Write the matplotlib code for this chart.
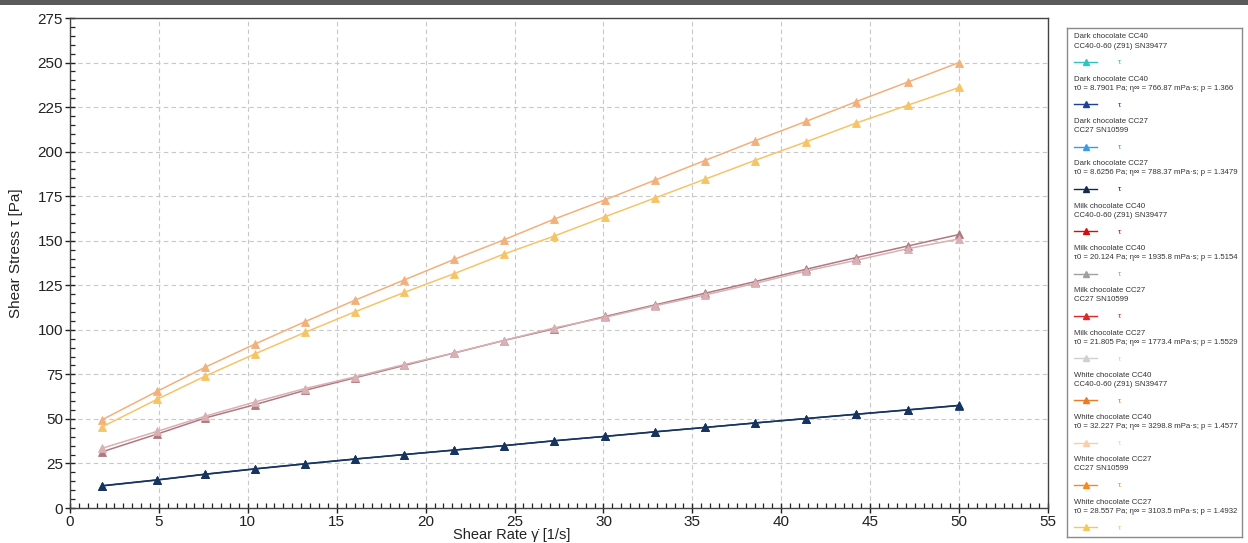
import matplotlib
matplotlib.use("Agg")
import matplotlib.pyplot as plt
from matplotlib.lines import Line2D
from matplotlib.patches import Rectangle
from matplotlib.ticker import MultipleLocator

plt.rcParams['font.family'] = ['Liberation Sans', 'DejaVu Sans']

# ---------------- data ----------------
shear_rate = [1.8, 4.9, 7.6, 10.4, 13.2, 16.0, 18.8, 21.6, 24.4, 27.2,
              30.1, 32.9, 35.7, 38.5, 41.4, 44.2, 47.1, 50.0]

dark_cc40 = [12.5, 15.8, 19.0, 22.0, 24.8, 27.5, 30.0, 32.5, 35.0, 37.7,
             40.2, 42.8, 45.2, 47.7, 50.2, 52.6, 55.0, 57.5]
dark_cc27 = [12.4, 15.7, 18.9, 21.9, 24.7, 27.4, 30.0, 32.5, 35.0, 37.7,
             40.2, 42.7, 45.2, 47.7, 50.2, 52.6, 55.1, 57.6]
milk_cc40 = [31.5, 41.5, 50.5, 58.0, 66.0, 73.0, 80.0, 87.0, 94.0, 100.5,
             107.5, 114.0, 120.5, 127.0, 134.0, 140.5, 147.0, 153.5]
milk_cc27 = [33.5, 43.0, 51.5, 59.5, 67.0, 73.5, 80.5, 87.0, 94.0, 101.0,
             107.0, 113.5, 119.5, 126.0, 133.0, 139.0, 145.5, 151.0]
white_cc40 = [49.5, 65.5, 79.0, 92.0, 104.5, 116.5, 128.0, 139.5, 150.5, 162.0,
              173.0, 184.0, 195.0, 206.0, 217.0, 228.0, 239.0, 250.0]
white_cc27 = [45.5, 61.0, 74.0, 86.5, 98.5, 110.0, 121.0, 131.5, 142.5, 152.5,
              163.5, 174.0, 184.5, 195.0, 205.5, 216.0, 226.0, 236.0]

legend_titles = ["Dark chocolate CC40", "Dark chocolate CC40",
                 "Dark chocolate CC27", "Dark chocolate CC27",
                 "Milk chocolate CC40", "Milk chocolate CC40",
                 "Milk chocolate CC27", "Milk chocolate CC27",
                 "White chocolate CC40", "White chocolate CC40",
                 "White chocolate CC27", "White chocolate CC27"]
legend_sub = ["CC40-0-60 (Z91) SN39477",
              "τ0 = 8.7901 Pa; η∞ = 766.87 mPa·s; p = 1.366",
              "CC27 SN10599",
              "τ0 = 8.6256 Pa; η∞ = 788.37 mPa·s; p = 1.3479",
              "CC40-0-60 (Z91) SN39477",
              "τ0 = 20.124 Pa; η∞ = 1935.8 mPa·s; p = 1.5154",
              "CC27 SN10599",
              "τ0 = 21.805 Pa; η∞ = 1773.4 mPa·s; p = 1.5529",
              "CC40-0-60 (Z91) SN39477",
              "τ0 = 32.227 Pa; η∞ = 3298.8 mPa·s; p = 1.4577",
              "CC27 SN10599",
              "τ0 = 28.557 Pa; η∞ = 3103.5 mPa·s; p = 1.4932"]
legend_colors = ["#2ec4c4", "#1f3f9e", "#3a9be8", "#16294f",
                 "#d01010", "#a0a0a0", "#e02828", "#d0d0d0",
                 "#f07a20", "#f8cfa8", "#f58a1e", "#f5c85a"]

# apparent colours of the curves in the plot area
curve_series = [dark_cc40, dark_cc27, milk_cc40, milk_cc27, white_cc40, white_cc27]
curve_colors = ["#1d3f6e", "#17345e", "#b07880", "#d9b0b4", "#f1b07c", "#f6c466"]

# ---------------- figure ----------------
fig = plt.figure(figsize=(12.48, 5.43), dpi=100)
fig.patches.append(Rectangle((0, 0.991), 1, 0.009, transform=fig.transFigure,
                             facecolor="#5a5a5a", edgecolor="none", zorder=0))

ax = fig.add_axes([70 / 1248, 35 / 543, 978 / 1248, 490 / 543])
for ys, c in zip(curve_series, curve_colors):
    ax.plot(shear_rate, ys, color=c, lw=1.1, marker="^", ms=5.5,
            markeredgewidth=0.6, zorder=3)

ax.set_xlim(0, 55)
ax.set_ylim(0, 275)
ax.xaxis.set_major_locator(MultipleLocator(5))
ax.xaxis.set_minor_locator(MultipleLocator(0.5))
ax.yaxis.set_major_locator(MultipleLocator(25))
ax.yaxis.set_minor_locator(MultipleLocator(5))
ax.tick_params(which="major", direction="inout", length=7, width=1,
               labelsize=11, colors="#222222", pad=1.5)
ax.tick_params(which="minor", direction="in", length=3.5, width=0.9,
               color="#222222")
ax.grid(True, which="major", ls=(0, (4, 3)), color="#c8c8c8", lw=0.8)
for s in ax.spines.values():
    s.set_color("#444444")
    s.set_linewidth(1.0)
ax.set_xlabel("Shear Rate \u03b3\u0307 [1/s]", fontsize=10.5, color="#222222")
ax.xaxis.set_label_coords(0.452, -0.041)
ax.set_ylabel("Shear Stress τ [Pa]", fontsize=11, color="#222222")
ax.yaxis.set_label_coords(-0.048, 0.52)

# ---------------- legend panel ----------------
lax = fig.add_axes([1067 / 1248, 6 / 543, 175 / 1248, 509 / 543])
lax.set_xlim(0, 175)
lax.set_ylim(509, 0)
lax.set_xticks([])
lax.set_yticks([])
for s in lax.spines.values():
    s.set_color("#8a8a8a")
    s.set_linewidth(1.0)
step = 42.3
for i, (t1, t2, c) in enumerate(zip(legend_titles, legend_sub, legend_colors)):
    y0 = 9 + step * i
    lax.text(7, y0, t1, fontsize=5.6, color="#333333", va="center", ha="left")
    lax.text(7, y0 + 9, t2, fontsize=5.6, color="#333333", va="center", ha="left")
    lax.add_line(Line2D([7, 30], [y0 + 25, y0 + 25], color=c, lw=1.0))
    lax.add_line(Line2D([18.5], [y0 + 25], color=c, marker="^", ms=5, lw=0))
    lax.text(51, y0 + 26, "τ", fontsize=6, color=c, va="center", ha="left")

fig.savefig("out.png", dpi=100)
